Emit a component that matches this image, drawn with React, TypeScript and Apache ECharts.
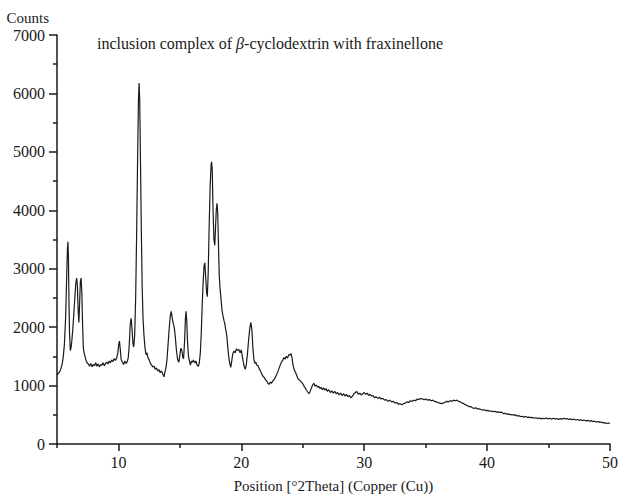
import React, { useEffect, useRef } from "react";
import * as echarts from "echarts";

// 2θ (degrees) and counts
const lowAnglePeaks: [number, number][] = [
  [5.0, 1180], [5.1, 1210], [5.2, 1230], [5.3, 1280], [5.4, 1350], [5.5, 1470], [5.6, 1700],
  [5.7, 2150], [5.78, 2800], [5.85, 3350], [5.89, 3460], [5.93, 3200], [5.97, 2500], [6.02, 1900],
  [6.08, 1600], [6.14, 1640], [6.2, 1750], [6.28, 1950], [6.36, 2200], [6.45, 2500], [6.53, 2750],
  [6.6, 2840], [6.66, 2700], [6.72, 2300], [6.78, 2080], [6.84, 2400], [6.9, 2780], [6.96, 2840],
  [7.02, 2600], [7.08, 2050], [7.14, 1650], [7.2, 1560], [7.28, 1500], [7.36, 1430], [7.45, 1390],
  [7.55, 1370], [7.65, 1330], [7.75, 1380], [7.85, 1320], [7.95, 1360], [8.05, 1340], [8.15, 1390],
  [8.25, 1330], [8.35, 1370], [8.45, 1320], [8.55, 1360], [8.65, 1350], [8.75, 1390], [8.85, 1340],
  [8.95, 1380], [9.05, 1400], [9.15, 1370], [9.25, 1420], [9.35, 1390], [9.45, 1440], [9.55, 1410],
  [9.65, 1460], [9.75, 1430], [9.85, 1470], [9.95, 1560], [10.02, 1700], [10.08, 1760],
  [10.14, 1640], [10.22, 1450], [10.32, 1400], [10.42, 1360], [10.52, 1420], [10.62, 1380],
  [10.72, 1410], [10.8, 1480],
];

const mainPeakRegion: [number, number][] = [
  [10.88, 1700], [10.96, 2050], [11.03, 2150], [11.1, 1980], [11.18, 1720], [11.24, 1660],
  [11.32, 1850], [11.4, 2500], [11.48, 3600], [11.56, 4900], [11.63, 5900], [11.68, 6180],
  [11.73, 5900], [11.79, 4900], [11.86, 3700], [11.93, 2700], [12.0, 2150], [12.08, 1850],
  [12.16, 1650], [12.24, 1530], [12.32, 1560], [12.4, 1480], [12.5, 1440], [12.6, 1380],
  [12.7, 1350], [12.8, 1320], [12.9, 1330], [13.0, 1280], [13.1, 1300], [13.2, 1250], [13.3, 1270],
  [13.4, 1220], [13.5, 1250], [13.6, 1200], [13.7, 1150], [13.78, 1230], [13.86, 1300],
  [13.94, 1420], [14.02, 1650], [14.12, 1950], [14.22, 2200], [14.3, 2270], [14.38, 2150],
  [14.46, 2060], [14.54, 2000], [14.62, 1850], [14.72, 1600], [14.82, 1440], [14.92, 1400],
  [15.0, 1520], [15.08, 1640], [15.16, 1600], [15.24, 1480], [15.3, 1460], [15.38, 1750],
  [15.45, 2150], [15.5, 2270], [15.56, 2100], [15.62, 1750], [15.7, 1500], [15.78, 1420],
  [15.86, 1350], [15.94, 1420], [16.02, 1400], [16.1, 1440], [16.2, 1390], [16.3, 1420],
  [16.4, 1350], [16.5, 1330], [16.58, 1390], [16.66, 1550], [16.74, 1900], [16.82, 2400],
  [16.9, 2800], [16.97, 3050], [17.03, 3100], [17.1, 2850], [17.17, 2600], [17.23, 2520],
  [17.3, 2900], [17.38, 3700], [17.46, 4400], [17.54, 4780], [17.58, 4830], [17.63, 4700],
  [17.7, 4000], [17.77, 3500], [17.84, 3400], [17.9, 3700], [17.96, 4000], [18.02, 4120],
  [18.08, 3950], [18.14, 3400], [18.2, 2900], [18.27, 2650], [18.34, 2500], [18.42, 2300],
  [18.5, 2200], [18.58, 2120], [18.66, 2050], [18.74, 1950], [18.82, 1850], [18.9, 1650],
  [18.98, 1480], [19.06, 1380], [19.14, 1310], [19.22, 1420], [19.3, 1540], [19.4, 1590],
  [19.5, 1560], [19.6, 1630], [19.7, 1600], [19.8, 1620], [19.9, 1560], [20.0, 1610],
  [20.08, 1500], [20.16, 1400], [20.24, 1320], [20.32, 1280], [20.4, 1350], [20.5, 1550],
  [20.6, 1800], [20.7, 2000], [20.78, 2080], [20.86, 1950], [20.94, 1650], [21.02, 1450],
  [21.1, 1380], [21.18, 1400],
];

const broadHumpRegion: [number, number][] = [
  [21.26, 1350], [21.36, 1340], [21.46, 1290], [21.56, 1250], [21.66, 1200], [21.76, 1160],
  [21.86, 1140], [21.96, 1100], [22.06, 1080], [22.16, 1040], [22.26, 1020], [22.36, 1060],
  [22.46, 1040], [22.56, 1080], [22.66, 1100], [22.76, 1140], [22.86, 1180], [22.96, 1230],
  [23.06, 1290], [23.16, 1350], [23.26, 1400], [23.36, 1430], [23.46, 1480], [23.56, 1450],
  [23.66, 1500], [23.76, 1470], [23.86, 1530], [23.96, 1520], [24.04, 1550], [24.12, 1480],
  [24.2, 1360], [24.3, 1270], [24.4, 1230], [24.5, 1180], [24.6, 1120], [24.7, 1100],
  [24.8, 1080], [24.9, 1060], [25.0, 1030], [25.1, 990], [25.2, 960], [25.3, 920], [25.4, 890],
  [25.5, 860], [25.6, 900], [25.7, 960], [25.8, 1010], [25.9, 1040], [26.0, 990], [26.1, 1010],
  [26.2, 970], [26.3, 990], [26.4, 950], [26.5, 970], [26.6, 930], [26.7, 960], [26.8, 920],
  [26.9, 950], [27.0, 900], [27.12, 930], [27.24, 880], [27.36, 910], [27.48, 870], [27.6, 900],
  [27.72, 860], [27.84, 880], [27.96, 840], [28.08, 870], [28.2, 830], [28.32, 860], [28.44, 820],
  [28.56, 850], [28.68, 810], [28.8, 830], [28.92, 790], [29.04, 820], [29.16, 860], [29.28, 880],
  [29.4, 900], [29.52, 850], [29.64, 870], [29.76, 840], [29.88, 860], [30.0, 880], [30.12, 850],
  [30.24, 870], [30.36, 830], [30.48, 850], [30.6, 820], [30.72, 830], [30.84, 790], [30.96, 810],
];

const tailRegion: [number, number][] = [
  [31.1, 780], [31.24, 800], [31.38, 770], [31.52, 780], [31.66, 750], [31.8, 760], [31.94, 730],
  [32.08, 750], [32.22, 720], [32.36, 730], [32.5, 700], [32.64, 710], [32.78, 680], [32.92, 690],
  [33.06, 670], [33.2, 690], [33.34, 700], [33.48, 720], [33.62, 710], [33.76, 740], [33.9, 730],
  [34.04, 750], [34.18, 740], [34.32, 770], [34.46, 760], [34.6, 780], [34.74, 770], [34.88, 760],
  [35.02, 770], [35.16, 750], [35.3, 760], [35.44, 740], [35.58, 750], [35.72, 730], [35.86, 720],
  [36.0, 710], [36.14, 700], [36.28, 690], [36.42, 700], [36.56, 710], [36.7, 730], [36.84, 720],
  [36.98, 740], [37.12, 730], [37.26, 750], [37.4, 740], [37.54, 750], [37.68, 730], [37.82, 720],
  [37.96, 700], [38.1, 690], [38.24, 670], [38.38, 660], [38.52, 640], [38.66, 640], [38.8, 620],
  [38.94, 610], [39.08, 620], [39.22, 600], [39.36, 600], [39.5, 590], [39.64, 580], [39.78, 585],
  [39.92, 570], [40.06, 575], [40.2, 560], [40.34, 565], [40.48, 555], [40.62, 560], [40.76, 545],
  [40.9, 550], [41.04, 540], [41.18, 545], [41.32, 520], [41.46, 525], [41.6, 510], [41.74, 515],
  [41.88, 500], [42.02, 505], [42.16, 495], [42.3, 500], [42.44, 480], [42.58, 485], [42.72, 470],
  [42.86, 475], [43.0, 460], [43.14, 470], [43.28, 455], [43.42, 460], [43.56, 450], [43.7, 455],
  [43.84, 440], [43.98, 450], [44.12, 435], [44.26, 445], [44.4, 430], [44.54, 440], [44.68, 435],
  [44.82, 445], [44.96, 430], [45.1, 440], [45.24, 425], [45.38, 440], [45.52, 430], [45.66, 435],
  [45.8, 420], [45.94, 435], [46.08, 425], [46.22, 440], [46.36, 430], [46.5, 435], [46.64, 420],
  [46.78, 430], [46.92, 415], [47.06, 425], [47.2, 410], [47.34, 420], [47.48, 405], [47.62, 415],
  [47.76, 400], [47.9, 410], [48.04, 395], [48.18, 405], [48.32, 390], [48.46, 400], [48.6, 385],
  [48.74, 390], [48.88, 375], [49.02, 385], [49.16, 370], [49.3, 375], [49.44, 360], [49.58, 365],
  [49.72, 350], [49.86, 360], [50.0, 350],
];

const xMajorTicks = [10, 20, 30, 40, 50];
const xMinorTicks = [5, 15, 25, 35, 45];

const FONT = "'Liberation Serif', 'DejaVu Serif', serif";
const INK = "#1a1a1a";

export default function App() {
  const ref = useRef<HTMLDivElement>(null);

  useEffect(() => {
    if (!ref.current) return;
    const chart = echarts.init(ref.current, null, { renderer: "svg" });
    const pattern = [...lowAnglePeaks, ...mainPeakRegion, ...broadHumpRegion, ...tailRegion];

    chart.setOption({
      animation: false,
      backgroundColor: "#ffffff",
      title: {
        text: "inclusion complex of {i|β}-cyclodextrin with fraxinellone",
        left: 92,
        top: 30,
        textStyle: {
          fontFamily: FONT,
          fontSize: 16,
          fontWeight: "normal",
          color: INK,
          rich: {
            i: { fontFamily: FONT, fontSize: 16, fontStyle: "italic", color: INK },
          },
        },
      },
      grid: { left: 57, right: 9, top: 35, bottom: 48, containLabel: false },
      xAxis: [
        {
          type: "value",
          min: 5,
          max: 50,
          name: "Position [°2Theta] (Copper (Cu))",
          nameLocation: "middle",
          nameGap: 34,
          nameTextStyle: { fontFamily: FONT, fontSize: 15, color: INK },
          axisLine: { show: true, lineStyle: { color: INK, width: 1.5 } },
          axisTick: {
            show: true,
            customValues: xMajorTicks,
            length: 7,
            lineStyle: { color: INK, width: 1.5 },
          },
          axisLabel: {
            customValues: xMajorTicks,
            margin: 10,
            fontFamily: FONT,
            fontSize: 16,
            color: INK,
          },
          splitLine: { show: false },
        },
        {
          type: "value",
          min: 5,
          max: 50,
          position: "bottom",
          axisLine: { show: false },
          axisTick: {
            show: true,
            customValues: xMinorTicks,
            length: 4,
            lineStyle: { color: INK, width: 1.5 },
          },
          axisLabel: { show: false },
          splitLine: { show: false },
        },
      ],
      yAxis: {
        type: "value",
        min: 0,
        max: 7000,
        interval: 1000,
        name: "Counts",
        nameLocation: "end",
        nameGap: 10,
        nameTextStyle: {
          fontFamily: FONT,
          fontSize: 15,
          color: INK,
          align: "right",
          padding: [0, 8, 0, 0],
        },
        axisLine: { show: true, lineStyle: { color: INK, width: 1.5 } },
        axisTick: { show: true, length: 8, lineStyle: { color: INK, width: 1.5 } },
        minorTick: { show: true, splitNumber: 2, length: 4, lineStyle: { color: INK, width: 1.5 } },
        axisLabel: {
          margin: 12,
          fontFamily: FONT,
          fontSize: 16,
          color: INK,
          formatter: (v: number) => String(v),
        },
        splitLine: { show: false },
        minorSplitLine: { show: false },
      },
      series: [
        {
          type: "line",
          xAxisIndex: 0,
          data: pattern,
          showSymbol: false,
          symbol: "none",
          lineStyle: { color: INK, width: 1.2 },
          emphasis: { disabled: true },
        },
      ],
    });

    return () => chart.dispose();
  }, []);

  return <div ref={ref} style={{ width: 621, height: 498, position: "absolute", left: 0, top: 0 }} />;
}
